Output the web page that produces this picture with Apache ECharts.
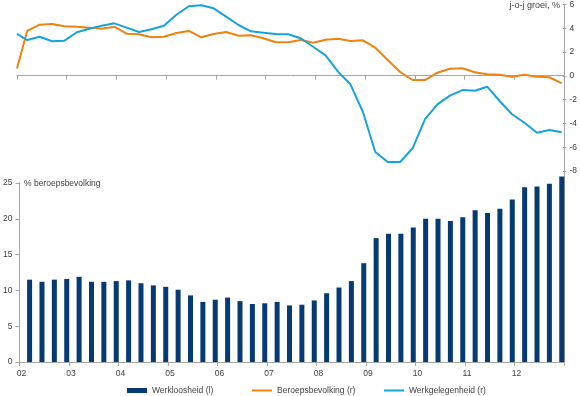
<!DOCTYPE html>
<html>
<head>
<meta charset="utf-8">
<script src="https://cdn.jsdelivr.net/npm/echarts@6/dist/echarts.min.js"></script>
<style>
html,body{margin:0;padding:0;background:#fff;}
#c{width:580px;height:396px;}
</style>
</head>
<body>
<div id="c"></div>
<script>
// Year tick labels (2002 .. 2012), one per 4 quarters
const yearLabels = ['02','03','04','05','06','07','08','09','10','11','12'];

// Werkloosheid (% beroepsbevolking), quarterly 2002Q1 .. 2012Q4
const werkloosheid = [
  11.5, 11.2, 11.5, 11.6, 11.9, 11.2, 11.2, 11.3, 11.4, 11.0, 10.7, 10.5,
  10.1, 9.3, 8.4, 8.7, 9.0, 8.5, 8.1, 8.2, 8.4, 7.9, 8.0, 8.6,
  9.6, 10.4, 11.3, 13.8, 17.3, 17.9, 17.9, 18.8, 20.0, 20.0, 19.7, 20.2,
  21.2, 20.8, 21.4, 22.7, 24.4, 24.5, 24.9, 25.9
];

// Beroepsbevolking j-o-j groei %, value at 2002 start then quarterly
const beroepsStart = 0.6;
const beroepsbevolking = [
  3.74, 4.27, 4.33, 4.13, 4.10, 4.02, 3.93, 4.10, 3.51, 3.46, 3.21, 3.26,
  3.57, 3.74, 3.21, 3.49, 3.65, 3.34, 3.38, 3.13, 2.79, 2.79, 2.98, 2.76,
  3.01, 3.09, 2.90, 2.96, 2.34, 1.31, 0.30, -0.37, -0.37, 0.24, 0.58, 0.61,
  0.28, 0.11, 0.08, -0.09, 0.08, -0.09, -0.14, -0.65
];

// Werkgelegenheid j-o-j groei %, value at 2002 start then quarterly
const werkgelStart = 3.5;
const werkgelegenheid = [
  2.98, 3.26, 2.88, 2.93, 3.63, 3.93, 4.18, 4.38, 4.02, 3.65, 3.88, 4.18,
  5.10, 5.81, 5.89, 5.64, 4.94, 4.24, 3.71, 3.60, 3.49, 3.46, 3.13, 2.42,
  1.70, 0.33, -0.73, -3.03, -6.40, -7.24, -7.24, -6.09, -3.65, -2.41, -1.68, -1.21,
  -1.27, -0.93, -2.13, -3.24, -3.95, -4.79, -4.56, -4.75
];

const QOFF = 0.82; // observation placed near the end of each quarter
const barData = werkloosheid.map((v, i) => [i + QOFF, v]);
const beroepsData = [[0, beroepsStart]].concat(beroepsbevolking.map((v, i) => [i + QOFF, v]));
const werkgelData = [[0, werkgelStart]].concat(werkgelegenheid.map((v, i) => [i + QOFF, v]));

const FONT = '"Liberation Sans", Arial, sans-serif';
const FS = 8.5;
const AX = '#a6a6a6';
const TXT = '#404040';
const ORANGE = '#f0820f';
const BLUE = '#17a3dc';
const NAVY = '#063a75';

function legendFor(name, left, h) {
  return {left: left, top: 386, padding: 0, itemWidth: 20, itemHeight: h, itemGap: 0,
          textStyle: {fontFamily: FONT, fontSize: FS, color: TXT},
          data: [{name: name, icon: 'rect'}]};
}

const chart = echarts.init(document.getElementById('c'), null, {renderer: 'canvas'});
chart.setOption({
  animation: false,
  textStyle: {fontFamily: FONT, color: TXT},
  grid: [
    {left: 17, right: 16, top: 4, bottom: 34},        // lines
    {left: 17, right: 16, top: 4, height: 167},        // right axis ticks (6..-8)
    {left: 17, right: 16, top: 183, bottom: 34}       // bars
  ],
  xAxis: [
    {gridIndex: 0, type: 'value', min: 0, max: 44, interval: 4,
     axisLine: {onZero: true, lineStyle: {color: AX, width: 1}},
     axisTick: {show: true, length: 4, lineStyle: {color: AX}},
     axisLabel: {show: false}, splitLine: {show: false}},
    {gridIndex: 1, type: 'value', min: 0, max: 44, show: false,
     axisLine: {onZero: false}},
    {gridIndex: 2, type: 'value', min: 0, max: 44, interval: 4,
     axisLine: {onZero: false, lineStyle: {color: AX, width: 1}},
     axisTick: {show: true, length: 4, lineStyle: {color: AX}},
     axisLabel: {color: TXT, fontSize: FS, fontFamily: FONT, margin: 7, padding: [0, 0, 0, 4],
       formatter: v => { const k = Math.round(v / 4); return k < yearLabels.length ? yearLabels[k] : ''; }},
     splitLine: {show: false}}
  ],
  yAxis: [
    {gridIndex: 0, type: 'value', position: 'right', min: -24, max: 6,
     axisLine: {show: true, onZero: false, lineStyle: {color: AX, width: 1}},
     axisTick: {show: false}, axisLabel: {show: false}, splitLine: {show: false}},
    {gridIndex: 1, type: 'value', position: 'right', min: -8, max: 6, interval: 2,
     axisLine: {show: false, onZero: false},
     axisTick: {show: true, length: 4, lineStyle: {color: AX}},
     axisLabel: {color: TXT, fontSize: FS, fontFamily: FONT, margin: 7},
     splitLine: {show: false}},
    {gridIndex: 2, type: 'value', position: 'left', min: 0, max: 25, interval: 5,
     axisLine: {show: true, onZero: false, lineStyle: {color: AX, width: 1}},
     axisTick: {show: true, length: 4, lineStyle: {color: AX}},
     axisLabel: {color: TXT, fontSize: FS, fontFamily: FONT, margin: 7},
     splitLine: {show: false}}
  ],
  legend: [
    legendFor('Werkloosheid (l)', 127, 5),
    legendFor('Beroepsbevolking (r)', 252, 2),
    legendFor('Werkgelegenheid (r)', 384, 2)
  ],
  graphic: [
    {type: 'text', left: 24, top: 179,
     style: {text: '% beroepsbevolking', font: FS + 'px ' + FONT, fill: TXT}},
    {type: 'text', right: 20, top: 1,
     style: {text: 'j-o-j groei, %', font: '9px ' + FONT, fill: TXT}}
  ],
  series: [
    {name: 'Werkloosheid (l)', type: 'bar', xAxisIndex: 2, yAxisIndex: 2, clip: false,
     data: barData, barWidth: 5, itemStyle: {color: NAVY}},
    {name: 'Beroepsbevolking (r)', type: 'line', xAxisIndex: 0, yAxisIndex: 0,
     data: beroepsData, symbol: 'none', lineStyle: {color: ORANGE, width: 2}, itemStyle: {color: ORANGE}},
    {name: 'Werkgelegenheid (r)', type: 'line', xAxisIndex: 0, yAxisIndex: 0,
     data: werkgelData, symbol: 'none', lineStyle: {color: BLUE, width: 2}, itemStyle: {color: BLUE}}
  ]
});
</script>
</body>
</html>
